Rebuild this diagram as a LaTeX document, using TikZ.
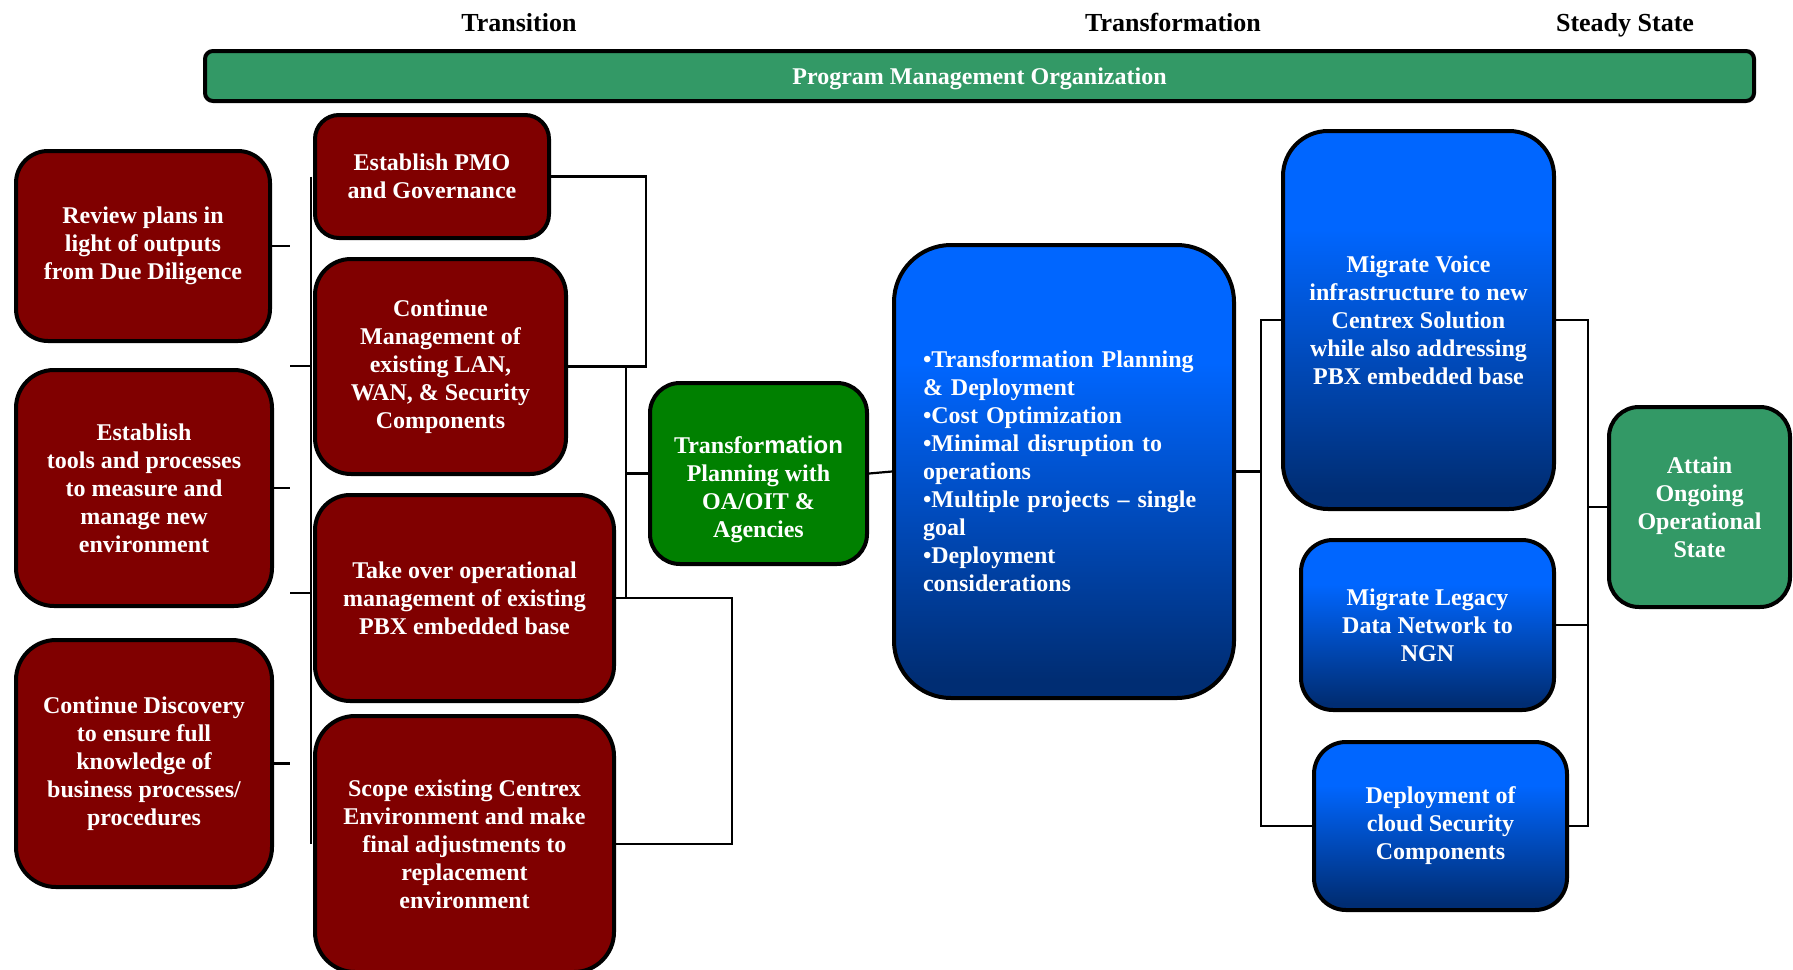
\documentclass[tikz,border=0pt]{standalone}
\usepackage{fontspec}
\setmainfont{Liberation Serif}
\newfontfamily\arialfont{Liberation Sans}
\usetikzlibrary{backgrounds,calc}
\definecolor{boxred}{RGB}{128,0,0}
\definecolor{boxgreen}{RGB}{0,128,0}
\definecolor{seagreen}{RGB}{51,153,102}
\definecolor{btop}{RGB}{0,102,255}
\definecolor{bbot}{RGB}{0,45,115}
\pgfdeclareverticalshading{blueshade}{100bp}{color(0bp)=(bbot); color(27bp)=(bbot); color(62bp)=(btop); color(100bp)=(btop)}
\tikzset{
  box/.style={draw=black, line width=2pt, align=center, text=white, inner sep=0pt,
    font=\fontsize{12}{14}\selectfont\bfseries},
  redbox/.style={box, fill=boxred},
  greenbox/.style={box, fill=boxgreen},
  seabox/.style={box, fill=seagreen},
  bluebox/.style={box, shade, shading=blueshade},
  conn/.style={draw=black, line width=1.1pt},
  header/.style={font=\fontsize{13}{15}\selectfont\bfseries, text=black, anchor=base, inner sep=0pt}
}
\begin{document}
\begin{tikzpicture}[x=0.5pt, y=-0.5pt]
\useasboundingbox (0,0) rectangle (1793,969);
\clip (0,0) rectangle (1793,969);
% headers
\node[header] (hTrans) at (519,32) {Transition};
\node[header] (hTransf) at (1173,32) {Transformation};
\node[header] (hSteady) at (1625,32) {Steady State};
% PMO bar
\node[seabox, minimum width=774.5pt, minimum height=25pt, rounded corners=4pt, text depth=0pt] (PMO) at (979.5,76) {Program Management Organization};
% left column
\node[redbox, minimum width=127pt, minimum height=95pt, rounded corners=16pt] (A1) at (143,246)
  {Review plans in\\light of outputs\\from Due Diligence};
\node[redbox, minimum width=128pt, minimum height=118pt, rounded corners=19pt] (A2) at (144,488)
  {Establish\\tools and processes\\to measure and\\manage new\\environment};
\node[redbox, minimum width=128pt, minimum height=123.5pt, rounded corners=20pt] (A3) at (144,763.5)
  {Continue Discovery\\to ensure full\\knowledge of\\business processes/\\procedures};
% middle column
\node[redbox, minimum width=117pt, minimum height=61.5pt, rounded corners=12pt] (B1) at (432,176.5)
  {Establish PMO\\and Governance};
\node[redbox, minimum width=125.5pt, minimum height=107.5pt, rounded corners=18pt] (B2) at (440.5,366.5)
  {Continue\\Management of\\existing LAN,\\WAN, \& Security\\Components};
\node[redbox, minimum width=149.5pt, minimum height=103pt, rounded corners=17.5pt] (B3) at (464.5,598)
  {Take over operational\\management of existing\\PBX embedded base};
\node[redbox, minimum width=149.5pt, minimum height=128pt, rounded corners=20pt] (B4) at (464.5,844)
  {Scope existing Centrex\\Environment and make\\final adjustments to\\replacement\\environment};
% green planning box
\node[greenbox, minimum width=108.5pt, minimum height=90.5pt, rounded corners=15pt] (C) at (758.5,473.5) {};
\node[box, draw=none, fill=none] (Ctext) at (758.5,489.5)
  {Transfor{\arialfont mation}\\Planning with\\OA/OIT \&\\Agencies};
% big blue box
\node[bluebox, minimum width=170pt, minimum height=226.5pt, rounded corners=28.5pt, text width=141pt, align=left] (D) at (1064,471.5)
  {•Transformation Planning\\\& Deployment\\•Cost Optimization\\•Minimal disruption to\\operations\\•Multiple projects – single\\goal\\•Deployment\\considerations};
% right blue boxes
\node[bluebox, minimum width=135.5pt, minimum height=189pt, rounded corners=22.5pt] (E1) at (1418.5,320)
  {Migrate Voice\\infrastructure to new\\Centrex Solution\\while also addressing\\PBX embedded base};
\node[bluebox, minimum width=126.5pt, minimum height=85pt, rounded corners=16pt] (E2) at (1427.5,625)
  {Migrate Legacy\\Data Network to\\NGN};
\node[bluebox, minimum width=126.5pt, minimum height=84pt, rounded corners=16pt] (E3) at (1440.5,826)
  {Deployment of\\cloud Security\\Components};
% steady state
\node[seabox, minimum width=90.5pt, minimum height=100pt, rounded corners=15pt] (F) at (1699.5,507)
  {Attain\\Ongoing\\Operational\\State};
% connectors
\begin{pgfonlayer}{background}
\coordinate (busL) at (311,0);
\coordinate (stubL) at (290,0);
\coordinate (brA) at (646,0);
\coordinate (brC) at (626,0);
\coordinate (brB) at (732,0);
\coordinate (busR) at (1261,0);
\coordinate (busR2) at (1588,0);
\coordinate (jL1) at (311,366);
\coordinate (jL2) at (311,593);
\draw[conn] (busL |- B1.west) -- (busL |- B4.west);
\draw[conn] (A1.east) -- (stubL |- A1.east);
\draw[conn] (A2.east) -- (stubL |- A2.east);
\draw[conn] (A3.east) -- (stubL |- A3.east);
\draw[conn] (stubL |- jL1) -- (jL1);
\draw[conn] (stubL |- jL2) -- (jL2);
\draw[conn] (B1.east) -| (brA |- B2.east) -- (B2.east);
\draw[conn] (B3.east) -| (brB |- B4.east) -- (B4.east);
\draw[conn] (brC |- B2.east) -- (brC |- B3.east);
\draw[conn] (brC |- C.west) -- (C.west);
\draw[conn] (C.east) -- (D.west);
\draw[conn] (D.east) -- (busR |- D.east);
\draw[conn] (E1.west) -| (busR |- E3.west) -- (E3.west);
\draw[conn] (E1.east) -| (busR2 |- E3.east) -- (E3.east);
\draw[conn] (E2.east) -- (busR2 |- E2.east);
\draw[conn] (busR2 |- F.west) -- (F.west);
\end{pgfonlayer}
\end{tikzpicture}
\end{document}
